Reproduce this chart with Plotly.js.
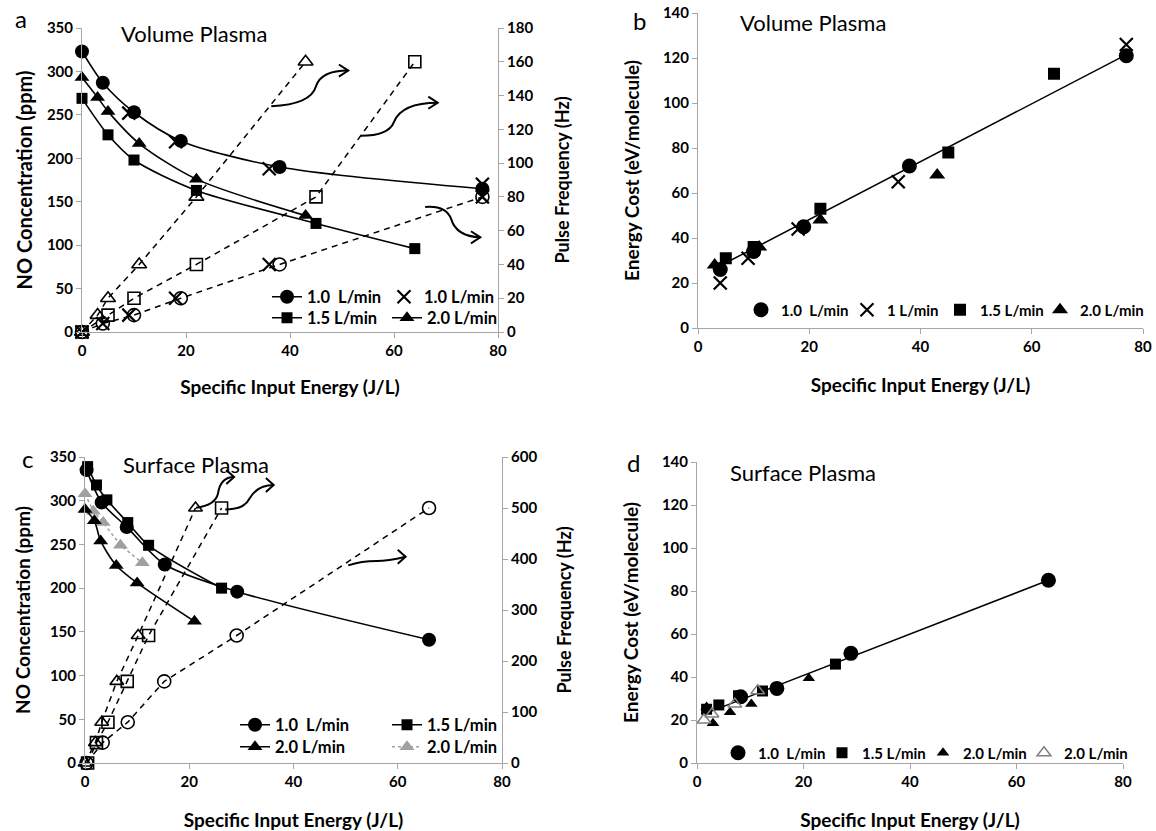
<!DOCTYPE html>
<html><head><meta charset="utf-8">
<script src="https://cdn.plot.ly/plotly-3.0.1.min.js"></script>
<style>body{margin:0;background:#fff}</style></head>
<body><div id="chart" style="width:1156px;height:831px"></div>
<script>
// ---------- Panel a: Volume plasma, NO concentration (ppm) ----------
const a_sie_10 = [0, 4, 10, 19, 38, 77];
const a_no_10  = [323, 287, 253, 220, 190, 165];
const a_sie_x  = [9, 18, 36, 77];
const a_no_x   = [252, 219, 188, 170];
const a_sie_15 = [0, 5, 10, 22, 45, 64];
const a_no_15  = [269, 227, 198, 163, 125, 96];
const a_sie_20 = [0, 3, 5, 11, 22, 43];
const a_no_20  = [293, 270, 254, 217, 176, 134];
// Panel a: pulse frequency (Hz)
const a_f_sie_10 = [0, 4, 10, 19, 38, 77];
const a_f_10     = [0, 5, 10, 20, 40, 80];
const a_f_sie_x  = [0, 4, 9, 18, 36, 77];
const a_f_x      = [0, 5, 10, 20, 40, 80];
const a_f_sie_15 = [0, 5, 10, 22, 45, 64];
const a_f_15     = [0, 10, 20, 40, 80, 160];
const a_f_sie_20 = [0, 3, 5, 11, 22, 43];
const a_f_20     = [0, 10, 20, 40, 80, 160];

// ---------- Panel b: Volume plasma, energy cost (eV/molecule) ----------
const b_sie_10 = [4, 10, 19, 38, 77];
const b_ec_10  = [26, 34, 45, 72, 121];
const b_sie_x  = [4, 9, 18, 36, 77];
const b_ec_x   = [20, 31, 44, 65, 126];
const b_sie_15 = [5, 10, 22, 45, 64];
const b_ec_15  = [31, 36, 53, 78, 113];
const b_sie_20 = [3, 11, 22, 43];
const b_ec_20  = [28, 36, 48, 68];
const b_fit_x  = [2.7, 77];
const b_fit_y  = [26, 121.5];

// ---------- Panel c: Surface plasma, NO concentration (ppm) ----------
const c_sie_10  = [0.3, 3.2, 8, 15.3, 29.2, 66];
const c_no_10   = [335, 298, 270, 227, 196, 141];
const c_sie_15  = [0.5, 2.2, 4.2, 8.2, 12.2, 26.2];
const c_no_15   = [339, 318, 301, 275, 249, 200];
const c_sie_20  = [0, 1.8, 3, 6, 10, 21];
const c_no_20   = [290, 277, 254, 226, 206, 162];
const c_sie_20b = [0, 1.6, 3.5, 6.8, 11];
const c_no_20b  = [308, 288, 275, 249, 229];
// Panel c: pulse frequency (Hz)
const c_f_sie_10 = [0.3, 3.4, 8.2, 15.2, 29.1, 66];
const c_f_10     = [0, 40, 80, 160, 250, 500];
const c_f_sie_15 = [0.5, 2.2, 4.4, 8.1, 12.2, 26.2];
const c_f_15     = [0, 40, 80, 160, 250, 500];
const c_f_sie_20 = [0, 2, 3.2, 6.1, 10.2, 21.2];
const c_f_20     = [0, 40, 80, 160, 250, 500];

// ---------- Panel d: Surface plasma, energy cost (eV/molecule) ----------
const d_sie_10  = [8.2, 15, 28.9, 66];
const d_ec_10   = [30.8, 34.7, 51, 85];
const d_sie_15  = [1.8, 4.1, 7.8, 12.3, 26];
const d_ec_15   = [25, 27, 31.3, 33.5, 46];
const d_sie_20  = [1.8, 3, 6.2, 10.2, 21];
const d_ec_20   = [26, 18.5, 23.6, 27.4, 39.4];
const d_sie_20b = [1.3, 2.8, 7.1, 11.4];
const d_ec_20b  = [20, 22.8, 27.4, 33.6];
const d_fit_x   = [0.9, 66];
const d_fit_y   = [22.4, 85];

const NAME_10 = '1.0\u00a0 L/min', NAME_X = '1.0 L/min', NAME_X1 = '1 L/min';
const NAME_15 = '1.5 L/min', NAME_20 = '2.0 L/min';

const FONT = 'Lato, "Open Sans", sans-serif';
const BLACK = '#000000', GRAY = '#a0a0a0';

function tr(o) {
  const t = {type: 'scatter', cliponaxis: false, hoverinfo: 'skip', showlegend: false};
  return Object.assign(t, o);
}
function solid(x, y, xa, ya, sym, size, name, leg, color, dash, shape) {
  return tr({x, y, xaxis: xa, yaxis: ya, mode: 'lines+markers', name,
    showlegend: !!leg, legend: leg || 'legend',
    line: {color: color || BLACK, width: dash ? 1.5 : 1.6, dash: dash || 'solid', shape: shape || 'linear', smoothing: 0.8},
    marker: {symbol: sym, size, color: color || BLACK, line: {width: 0}}});
}
function pts(x, y, xa, ya, sym, size, name, leg, color, lw) {
  return tr({x, y, xaxis: xa, yaxis: ya, mode: 'markers', name,
    showlegend: !!leg, legend: leg || 'legend',
    marker: {symbol: sym, size, color: color || BLACK, line: {width: lw || 0, color: color || BLACK}}});
}
function dashed(x, y, xa, ya, sym, size) {
  return tr({x, y, xaxis: xa, yaxis: ya, mode: 'lines+markers',
    line: {color: BLACK, width: 1.5, dash: '6px,5px'},
    marker: {symbol: sym, size, color: BLACK, line: {width: 1.6, color: BLACK}}});
}
function fit(x, y, xa, ya) {
  return tr({x, y, xaxis: xa, yaxis: ya, mode: 'lines', line: {color: BLACK, width: 1.5}});
}

const data = [
  // panel a frequency (drawn first, underneath)
  dashed(a_f_sie_10, a_f_10, 'x', 'y2', 'circle-open', 13),
  dashed(a_f_sie_15, a_f_15, 'x', 'y2', 'square-open', 12),
  dashed(a_f_sie_20, a_f_20, 'x', 'y2', 'triangle-up-open', 13),
  pts(a_f_sie_x, a_f_x, 'x', 'y2', 'x-thin-open', 13, NAME_X, null, BLACK, 2.2),
  // panel a NO
  solid(a_sie_10, a_no_10, 'x', 'y', 'circle', 14, NAME_10, 'legend', BLACK, null, 'spline'),
  pts(a_sie_x, a_no_x, 'x', 'y', 'x-thin-open', 13, NAME_X, 'legend2', BLACK, 2.2),
  solid(a_sie_15, a_no_15, 'x', 'y', 'square', 11, NAME_15, 'legend3', BLACK, null, 'spline'),
  solid(a_sie_20, a_no_20, 'x', 'y', 'triangle-up', 13, NAME_20, 'legend4', BLACK, null, 'spline'),
  // panel b
  fit(b_fit_x, b_fit_y, 'x2', 'y3'),
  pts(b_sie_10, b_ec_10, 'x2', 'y3', 'circle', 15, NAME_10, 'legend5'),
  pts(b_sie_x, b_ec_x, 'x2', 'y3', 'x-thin-open', 13, NAME_X1, 'legend6', BLACK, 2.2),
  pts(b_sie_15, b_ec_15, 'x2', 'y3', 'square', 12, NAME_15, 'legend7'),
  pts(b_sie_20, b_ec_20, 'x2', 'y3', 'triangle-up', 14, NAME_20, 'legend8'),
  // panel c frequency
  dashed(c_f_sie_10, c_f_10, 'x3', 'y5', 'circle-open', 13),
  dashed(c_f_sie_15, c_f_15, 'x3', 'y5', 'square-open', 12),
  dashed(c_f_sie_20, c_f_20, 'x3', 'y5', 'triangle-up-open', 12),
  // panel c NO
  solid(c_sie_20b, c_no_20b, 'x3', 'y4', 'triangle-up', 13, NAME_20, 'legend12', GRAY, 'dot'),
  solid(c_sie_20, c_no_20, 'x3', 'y4', 'triangle-up', 13, NAME_20, 'legend11', BLACK, null, 'spline'),
  solid(c_sie_15, c_no_15, 'x3', 'y4', 'square', 11, NAME_15, 'legend10', BLACK, null, 'spline'),
  solid(c_sie_10, c_no_10, 'x3', 'y4', 'circle', 14, NAME_10, 'legend9', BLACK, null, 'spline'),
  // panel d
  fit(d_fit_x, d_fit_y, 'x4', 'y6'),
  pts(d_sie_10, d_ec_10, 'x4', 'y6', 'circle', 15, NAME_10, 'legend13'),
  pts(d_sie_15, d_ec_15, 'x4', 'y6', 'square', 11, NAME_15, 'legend14'),
  pts(d_sie_20, d_ec_20, 'x4', 'y6', 'triangle-up', 11, NAME_20, 'legend15'),
  pts(d_sie_20b, d_ec_20b, 'x4', 'y6', 'triangle-up-open', 12, NAME_20, 'legend16', '#808080', 1.5)
];

function axis(extra) {
  return Object.assign({
    showline: true, linecolor: '#a6a6a6', linewidth: 1, mirror: false,
    ticks: 'outside', tickcolor: '#a6a6a6', ticklen: 5, tickwidth: 1,
    showgrid: false, zeroline: false, fixedrange: true, automargin: false,
    tickfont: {family: FONT, size: 15, weight: 'bold', color: BLACK}
  }, extra);
}
function ttl(text, size, standoff) {
  return {text, standoff, font: {family: FONT, size, weight: 'bold', color: BLACK}};
}
const W = 1156, H = 831;
function leg(px, py, fs) {
  return {x: px / W, y: 1 - py / H, xanchor: 'left', yanchor: 'middle', orientation: 'h',
    bgcolor: 'rgba(0,0,0,0)', borderwidth: 0, itemwidth: 30, itemclick: false,
    font: {family: FONT, size: fs, weight: 'bold', color: BLACK}};
}
function lbl(text, px, py, size) {
  return {text, x: px / W, y: 1 - py / H, xref: 'paper', yref: 'paper', showarrow: false,
    xanchor: 'center', yanchor: 'middle', font: {family: FONT, size, color: BLACK}};
}
function arrowShapes(xr, yr, curve, head) {
  return [
    {type: 'path', xref: xr, yref: yr, path: curve, line: {color: BLACK, width: 2}},
    {type: 'path', xref: xr, yref: yr, path: head, line: {color: BLACK, width: 2}}
  ];
}

const layout = {
  width: W, height: H, margin: {l: 0, r: 0, t: 0, b: 0},
  paper_bgcolor: '#fff', plot_bgcolor: 'rgba(0,0,0,0)',
  font: {family: FONT, color: BLACK}, hovermode: false, showlegend: true,
  xaxis:  axis({domain: [82 / W, 498 / W], anchor: 'y', range: [0, 80], dtick: 20,
                title: ttl('Specific Input Energy (J/L)', 19, 22)}),
  yaxis:  axis({domain: [1 - 332 / H, 1 - 28 / H], anchor: 'x', range: [0, 350], dtick: 50,
                title: ttl('NO Concentration (ppm)', 20, 8)}),
  yaxis2: axis({overlaying: 'y', side: 'right', anchor: 'x', range: [0, 180], dtick: 20,
                title: ttl('Pulse Frequency (Hz)', 18, 24)}),
  xaxis2: axis({domain: [698 / W, 1143 / W], anchor: 'y3', range: [0, 80], dtick: 20,
                title: ttl('Specific Input Energy (J/L)', 19, 24)}),
  yaxis3: axis({domain: [1 - 328 / H, 1 - 13 / H], anchor: 'x2', range: [0, 140], dtick: 20,
                title: ttl('Energy Cost (eV/molecule)', 19, 18)}),
  xaxis3: axis({domain: [85 / W, 502 / W], anchor: 'y4', range: [0, 80], dtick: 20,
                title: ttl('Specific Input Energy (J/L)', 19, 24)}),
  yaxis4: axis({domain: [1 - 763 / H, 1 - 457 / H], anchor: 'x3', range: [0, 350], dtick: 50,
                title: ttl('NO Concentration (ppm)', 19, 14)}),
  yaxis5: axis({overlaying: 'y4', side: 'right', anchor: 'x3', range: [0, 600], dtick: 100,
                title: ttl('Pulse Frequency (Hz)', 18, 22)}),
  xaxis4: axis({domain: [697 / W, 1123 / W], anchor: 'y6', range: [0, 80], dtick: 20,
                title: ttl('Specific Input Energy (J/L)', 19, 24)}),
  yaxis6: axis({domain: [1 - 763 / H, 1 - 462 / H], anchor: 'x4', range: [0, 140], dtick: 20,
                title: ttl('Energy Cost (eV/molecule)', 19, 18)}),
  legend: leg(267, 297, 16.5), legend2: leg(384, 297, 16.5), legend3: leg(267, 318, 16.5), legend4: leg(387, 318, 16.5),
  legend5: leg(741, 310, 15), legend6: leg(847, 310, 15), legend7: leg(940, 310, 15), legend8: leg(1040, 310, 15),
  legend9: leg(235, 725, 16.5), legend10: leg(387, 725, 16.5), legend11: leg(235, 747, 16.5), legend12: leg(387, 747, 16.5),
  legend13: leg(718, 753, 15), legend14: leg(822, 753, 15), legend15: leg(923, 753, 15), legend16: leg(1024, 753, 15),
  annotations: [
    lbl('a', 21, 19, 24), lbl('Volume Plasma', 194, 33, 22),
    lbl('b', 639, 20, 24), lbl('Volume Plasma', 813, 22, 22),
    lbl('c', 27, 458, 24), lbl('Surface Plasma', 196, 465, 22),
    lbl('d', 633, 462, 24), lbl('Surface Plasma', 803, 472, 22)
  ],
  shapes: [].concat(
    arrowShapes('x', 'y', 'M 36.4,260 Q 44,262 45,283 Q 46,301 51.2,301', 'M 49.4,308 L 51.2,301 L 49.4,294'),
    arrowShapes('x', 'y', 'M 53.6,226 Q 59,226 60,242 Q 61.5,264 68.4,264', 'M 66.6,271 L 68.4,264 L 66.6,257'),
    arrowShapes('x', 'y', 'M 66,144 Q 70,146 71,130 Q 72,110 76.6,109', 'M 74.8,116 L 76.6,109 L 74.8,102'),
    arrowShapes('x3', 'y4', 'M 21.3,292 Q 25,295 25.5,308 Q 26,327 28.6,327', 'M 27.1,335 L 28.6,327 L 27.1,319'),
    arrowShapes('x3', 'y4', 'M 26.9,290 Q 30.5,290 31.5,302 Q 33,318 36.2,318', 'M 34.7,326 L 36.2,318 L 34.7,310'),
    arrowShapes('x3', 'y4', 'M 50.5,226 Q 53,231 56,231 Q 58,231 61.5,236', 'M 60,244 L 61.5,236 L 60,228')
  )
};

Plotly.newPlot('chart', data, layout, {displayModeBar: false, staticPlot: true});
</script></body></html>
